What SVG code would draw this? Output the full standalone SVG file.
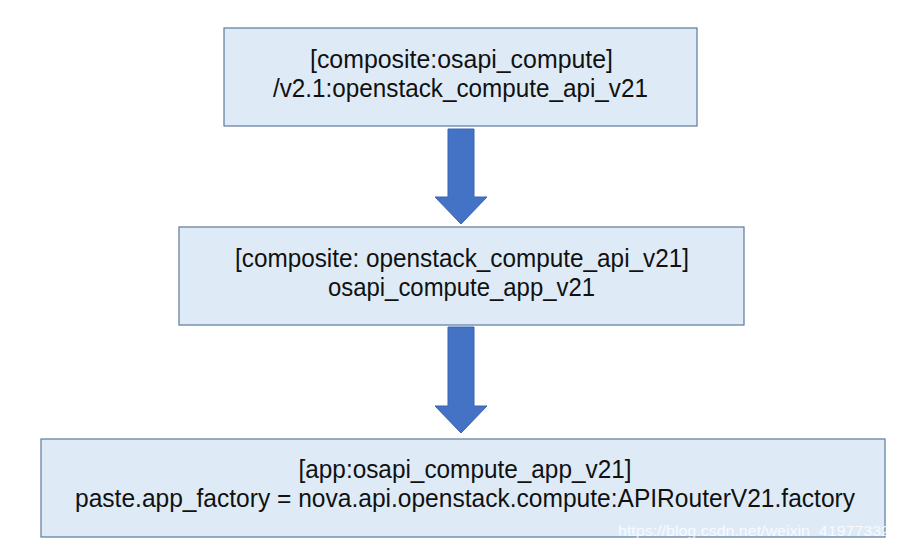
<svg xmlns="http://www.w3.org/2000/svg" width="900" height="551" viewBox="0 0 900 551">
<style>
.box{fill:#DEEBF7;stroke:#5A7A9A;stroke-width:1.2}
.t{font-family:"Liberation Sans","Noto Sans",sans-serif;font-size:25px;fill:#111;text-anchor:middle;lengthAdjust:spacingAndGlyphs}
.arrow{fill:#4472C4;stroke:#3A64B0;stroke-width:1}
.wm{font-family:"Liberation Sans",sans-serif;font-size:15px;fill:#ffffff;opacity:0.8}
</style>
<rect width="900" height="551" fill="#ffffff"/>
<g id="connectors">
<polygon class="arrow" points="448,129 474,129 474,197 487,197 461,224 435,197 448,197"/>
<polygon class="arrow" points="448,327 474,327 474,406 487,406 461,433 435,406 448,406"/>
</g>
<g id="node1">
<rect class="box" x="224" y="28" width="473" height="98"/>
<text class="t" x="461.5" y="68" textLength="303" lengthAdjust="spacingAndGlyphs">[composite:osapi_compute]</text>
<text class="t" x="460.5" y="97" textLength="375" lengthAdjust="spacingAndGlyphs">/v2.1:openstack_compute_api_v21</text>
</g>
<g id="node2">
<rect class="box" x="179" y="227" width="565" height="98"/>
<text class="t" x="462" y="267" textLength="454" lengthAdjust="spacingAndGlyphs">[composite: openstack_compute_api_v21]</text>
<text class="t" x="461.5" y="296" textLength="267" lengthAdjust="spacingAndGlyphs">osapi_compute_app_v21</text>
</g>
<g id="node3">
<rect class="box" x="41" y="439" width="844" height="98"/>
<text class="t" x="465" y="478" textLength="333" lengthAdjust="spacingAndGlyphs">[app:osapi_compute_app_v21]</text>
<text class="t" x="465" y="507" textLength="780" lengthAdjust="spacingAndGlyphs">paste.app_factory = nova.api.openstack.compute:APIRouterV21.factory</text>
</g>
<text class="wm" x="618" y="536" textLength="272" lengthAdjust="spacingAndGlyphs">https://blog.csdn.net/weixin_41977332</text>
</svg>
